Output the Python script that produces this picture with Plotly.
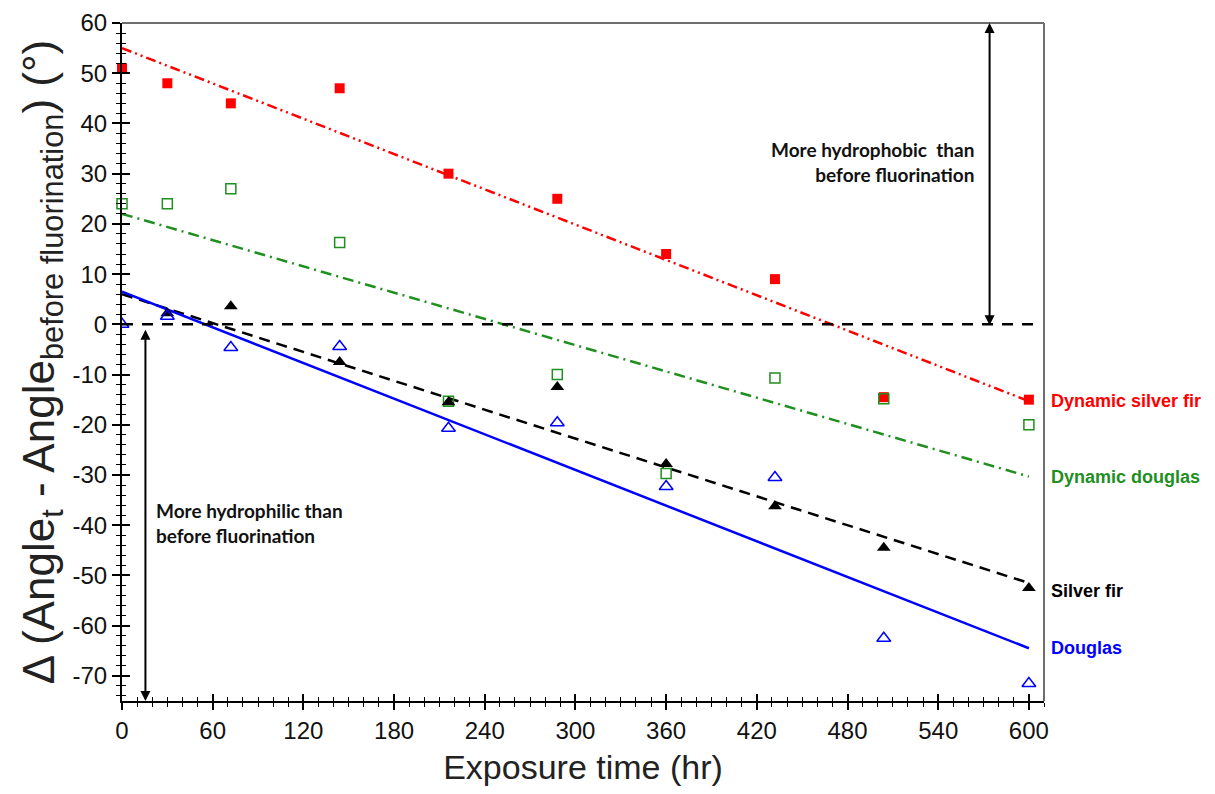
import plotly.graph_objects as go

# ---- data ----
hours = [0, 30, 72, 144, 216, 288, 360, 432, 504, 600]
dyn_silver_fir = [51, 48, 44, 47, 30, 25, 14, 9, -14.5, -15]
dyn_douglas = [24, 24, 27, 16.3, -15.3, -10, -29.7, -10.7, -14.8, -20]
silver_fir_x = [30, 72, 144, 216, 288, 360, 432, 504, 600]
silver_fir = [2.2, 3.6, -7.5, -15.5, -12.5, -27.8, -36.2, -44.5, -52.5]
douglas = [0, 1.6, -4.6, -4.4, -20.7, -19.6, -32.3, -30.5, -62.5, -71.5]

fit_x = [0, 600]
fit_dyn_silver_fir = [55, -15.3]
fit_dyn_douglas = [22, -30.3]
fit_silver_fir = [6, -51.5]
fit_douglas = [6.5, -64.5]

zero_x = [0, 607]
zero_y = [0, 0]

x_ticks = [0, 60, 120, 180, 240, 300, 360, 420, 480, 540, 600]
x_tick_labels = ["0", "60", "120", "180", "240", "300", "360", "420", "480", "540", "600"]
y_ticks = [-70, -60, -50, -40, -30, -20, -10, 0, 10, 20, 30, 40, 50, 60]
y_tick_labels = ["-70", "-60", "-50", "-40", "-30", "-20", "-10", "0",
                 "10", "20", "30", "40", "50", "60"]

series_names = ["Dynamic silver fir", "Dynamic douglas", "Silver fir", "Douglas"]

RED = "#ff0000"
GREEN = "#1f8f1f"
BLACK = "#000000"
BLUE = "#0000ff"

fig = go.Figure()

# regression lines
fig.add_trace(go.Scatter(x=fit_x, y=fit_dyn_silver_fir, mode="lines",
                         line=dict(color=RED, width=2.5, dash="10px,4px,2px,4px,2px,4px"),
                         showlegend=False, hoverinfo="skip"))
fig.add_trace(go.Scatter(x=fit_x, y=fit_dyn_douglas, mode="lines",
                         line=dict(color=GREEN, width=2.5, dash="11px,5px,2px,5px"),
                         showlegend=False, hoverinfo="skip"))
fig.add_trace(go.Scatter(x=fit_x, y=fit_silver_fir, mode="lines",
                         line=dict(color=BLACK, width=2.5, dash="11px,7px"),
                         showlegend=False, hoverinfo="skip"))
fig.add_trace(go.Scatter(x=fit_x, y=fit_douglas, mode="lines",
                         line=dict(color=BLUE, width=2.5),
                         showlegend=False, hoverinfo="skip"))

# zero reference line (drawn on overlay axes so they render)
fig.add_trace(go.Scatter(x=zero_x, y=zero_y, mode="lines", xaxis="x2", yaxis="y2",
                         line=dict(color=BLACK, width=2.5, dash="11px,9px"),
                         showlegend=False, hoverinfo="skip"))

# data points
fig.add_trace(go.Scatter(x=hours, y=dyn_silver_fir, mode="markers", cliponaxis=False,
                         marker=dict(symbol="square", size=10, color=RED),
                         name=series_names[0], showlegend=False))
fig.add_trace(go.Scatter(x=hours, y=dyn_douglas, mode="markers", cliponaxis=False,
                         marker=dict(symbol="square-open", size=10, color=GREEN,
                                     line=dict(width=1.5, color=GREEN)),
                         name=series_names[1], showlegend=False))
fig.add_trace(go.Scatter(x=silver_fir_x, y=silver_fir, mode="markers",
                         marker=dict(symbol="triangle-up", size=12, color=BLACK),
                         name=series_names[2], showlegend=False))
fig.add_trace(go.Scatter(x=hours, y=douglas, mode="markers",
                         marker=dict(symbol="triangle-up-open", size=12, color=BLUE,
                                     line=dict(width=1.5, color=BLUE)),
                         name=series_names[3], showlegend=False))

tick_font = dict(family="Liberation Sans, Arial, sans-serif", size=24, color="#111111")

# page body has an 8px margin: size the figure to fit the 1215x794 window
fig.update_layout(
    width=1199, height=778,
    margin=dict(l=114, r=163, t=15, b=85),
    paper_bgcolor="white", plot_bgcolor="white",
    xaxis=dict(range=[0, 610], tickvals=x_ticks, ticktext=x_tick_labels,
               ticks="outside", ticklen=7, tickwidth=1.5, tickcolor=BLACK,
               minor=dict(dtick=10, tick0=0, ticks="outside", ticklen=4, tickcolor=BLACK, tickwidth=1.2),
               showline=True, linecolor=BLACK, linewidth=2, showgrid=False, zeroline=False,
               tickfont=tick_font, automargin=False,
               title=dict(text="Exposure time (hr)", standoff=22,
                          font=dict(family="Liberation Sans, Arial, sans-serif", size=34, color="#222222"))),
    yaxis=dict(range=[-75, 60], tickvals=y_ticks, ticktext=y_tick_labels,
               ticks="outside", ticklen=8, tickwidth=1.5, tickcolor=BLACK,
               minor=dict(dtick=2, tick0=0, ticks="outside", ticklen=4, tickcolor=BLACK, tickwidth=1.2),
               showline=True, linecolor=BLACK, linewidth=2, showgrid=False, zeroline=False,
               tickfont=tick_font, automargin=False,
               title=dict(text="\u0394 (Angle<sub>t</sub> - Angle<sub>before fluorination</sub>) (\u00b0)",
                          standoff=4,
                          font=dict(family="Liberation Sans, Arial, sans-serif", size=44, color="#222222"))),
    xaxis2=dict(range=[0, 610], overlaying="x", anchor="y2", side="bottom",
                tickvals=x_ticks, ticks="inside", ticklen=7, tickwidth=1.5, tickcolor=BLACK,
                minor=dict(dtick=10, tick0=0, ticks="inside", ticklen=4, tickcolor=BLACK, tickwidth=1.2),
                showticklabels=False, showline=False, showgrid=False, zeroline=False, automargin=False),
    yaxis2=dict(range=[-75, 60], overlaying="y", anchor="x2", side="left",
                tickvals=y_ticks, ticks="inside", ticklen=8, tickwidth=1.5, tickcolor=BLACK,
                minor=dict(dtick=2, tick0=0, ticks="inside", ticklen=4, tickcolor=BLACK, tickwidth=1.2),
                showticklabels=False, showline=False, showgrid=False, zeroline=False, automargin=False),
    shapes=[
        dict(type="line", xref="paper", yref="paper", x0=0, x1=1, y0=1, y1=1,
             line=dict(color="#6e6e6e", width=2)),
        dict(type="line", xref="paper", yref="paper", x0=1, x1=1, y0=0, y1=1,
             line=dict(color="#6e6e6e", width=2)),
    ],
)

# double-headed arrows
fig.add_annotation(x=574, y=60, ax=574, ay=-0.5, xref="x", yref="y", axref="x", ayref="y",
                   text="", showarrow=True, arrowhead=2, startarrowhead=2, arrowside="end+start",
                   arrowwidth=2, arrowsize=1, arrowcolor=BLACK)
fig.add_annotation(x=15.5, y=-75, ax=15.5, ay=-0.8, xref="x", yref="y", axref="x", ayref="y",
                   text="", showarrow=True, arrowhead=2, startarrowhead=2, arrowside="end+start",
                   arrowwidth=2, arrowsize=1, arrowcolor=BLACK)

note_font = dict(family="Lato, Carlito, sans-serif", size=19, color="#111111")
fig.add_annotation(x=565, y=32.3, xref="x", yref="y", xanchor="right", yanchor="middle",
                   text="<b>More hydrophobic  than<br>before fluorination</b>", align="right",
                   showarrow=False, font=note_font)
fig.add_annotation(x=21, y=-39.6, xref="x", yref="y", xanchor="left", yanchor="middle",
                   text="<b>More hydrophilic than<br>before fluorination</b>", align="left",
                   showarrow=False, font=note_font)

# series labels at right (placed at the end value of each fit line)
lab_font = "Liberation Sans, Arial, sans-serif"
label_y = [fit_dyn_silver_fir[-1], fit_dyn_douglas[-1], fit_silver_fir[-1] - 1.5, fit_douglas[-1]]
label_col = [RED, GREEN, BLACK, BLUE]
for txt, yv, col in zip(series_names, label_y, label_col):
    fig.add_annotation(x=1, xshift=5, y=yv, xref="paper", yref="y", xanchor="left", yanchor="middle",
                       text="<b>" + txt + "</b>", showarrow=False,
                       font=dict(family=lab_font, size=18, color=col))

fig.write_html("out.html")
